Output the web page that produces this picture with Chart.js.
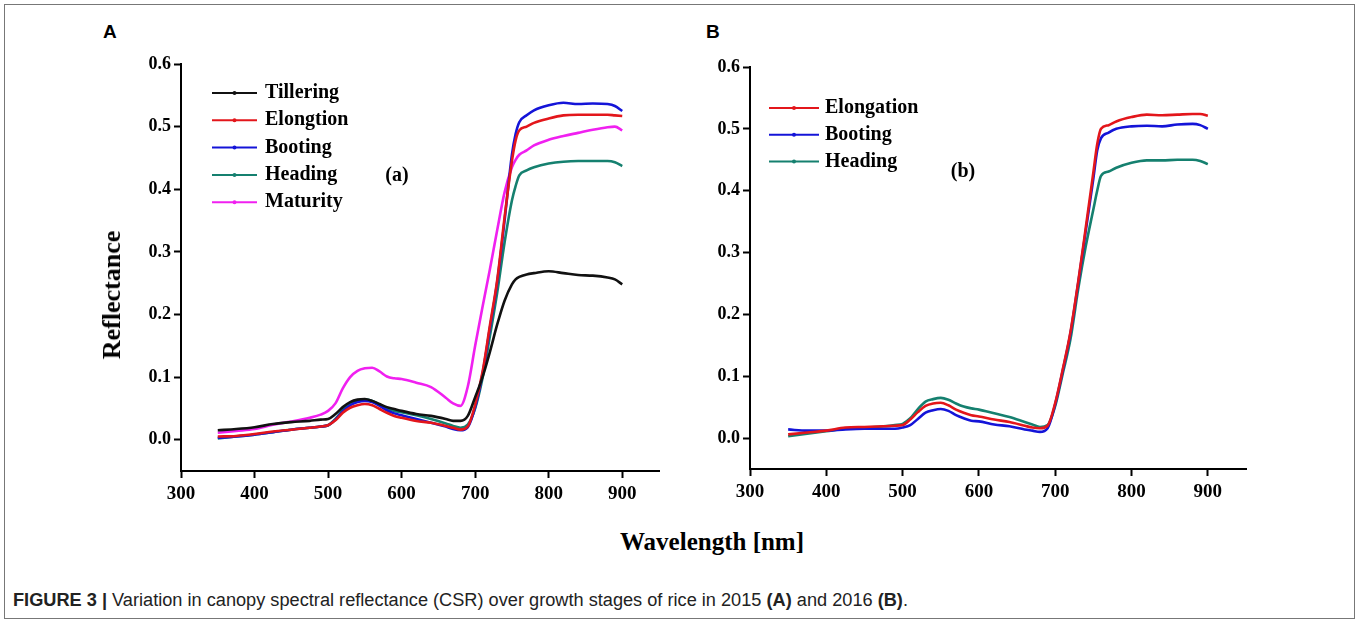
<!DOCTYPE html>
<html>
<head>
<meta charset="utf-8">
<script src="https://cdn.jsdelivr.net/npm/chart.js@4.4.1/dist/chart.umd.min.js"></script>
<style>
  body { margin: 0; background: #fff; width: 1359px; height: 623px; overflow: hidden; position: relative; }
  #frame { position: absolute; left: 4px; top: 4px; width: 1351px; height: 615px; border: 1px solid #777; box-sizing: border-box; }
  .box { position: absolute; }
  .panel { position: absolute; top: 22px; font: bold 19px "Liberation Sans", Arial, sans-serif; line-height: 1; color: #000; }
  .serif { font-family: "Liberation Serif", "Times New Roman", serif; font-weight: bold; color: #000; line-height: 1; position: absolute; white-space: nowrap; }
  #xTitle { left: 712px; top: 541px; font-size: 25px; transform: translate(-50%, -50%); }
  #yTitle { left: 112px; top: 295px; font-size: 26px; transform: translate(-50%, -50%) rotate(-90deg); }
  #cap { position: absolute; left: 13px; top: 590px; font: 18px "Liberation Sans", Arial, sans-serif; color: #222; white-space: nowrap; transform-origin: 0 0; }
</style>
</head>
<body>
<div id="frame"></div>
<div class="panel" style="left:103px">A</div>
<div class="panel" style="left:706px">B</div>
<div class="box" style="left:95px;top:40px"><canvas id="chartA" width="585" height="460"></canvas></div>
<div class="box" style="left:665px;top:40px"><canvas id="chartB" width="600" height="460"></canvas></div>
<div id="xTitle" class="serif">Wavelength [nm]</div>
<div id="yTitle" class="serif">Reflectance</div>
<div id="cap"><b>FIGURE 3 |</b> Variation in canopy spectral reflectance (CSR) over growth stages of rice in 2015 <b>(A)</b> and 2016 <b>(B)</b>.</div>

<script>
// wavelengths (nm) shared by both panels
const wavelengths = [350, 375, 400, 425, 450, 475, 490, 500, 510, 520, 530, 540, 550, 560, 570, 580, 590, 600, 620, 640, 660, 670, 680, 690, 700, 710, 720, 730, 740, 750, 755, 760, 770, 780, 800, 820, 840, 860, 880, 890, 900];

const xTicks = [300, 400, 500, 600, 700, 800, 900];
const yTicks = [0, 0.1, 0.2, 0.3, 0.4, 0.5, 0.6];

// (a) 2015
const tilleringA = [0.015, 0.017, 0.020, 0.025, 0.028, 0.030, 0.032, 0.033, 0.041, 0.052, 0.060, 0.064, 0.065, 0.062, 0.057, 0.052, 0.049, 0.046, 0.041, 0.038, 0.033, 0.030, 0.030, 0.038, 0.068, 0.100, 0.140, 0.184, 0.222, 0.248, 0.256, 0.260, 0.264, 0.266, 0.269, 0.266, 0.263, 0.262, 0.259, 0.256, 0.248];
const elongtionA = [0.005, 0.006, 0.009, 0.013, 0.016, 0.019, 0.021, 0.023, 0.031, 0.043, 0.051, 0.055, 0.057, 0.055, 0.049, 0.043, 0.038, 0.035, 0.030, 0.027, 0.022, 0.019, 0.016, 0.021, 0.056, 0.108, 0.182, 0.255, 0.355, 0.445, 0.478, 0.494, 0.500, 0.506, 0.513, 0.518, 0.519, 0.519, 0.519, 0.518, 0.517];
const bootingA = [0.003, 0.005, 0.008, 0.012, 0.016, 0.019, 0.021, 0.023, 0.032, 0.045, 0.055, 0.060, 0.062, 0.060, 0.054, 0.047, 0.042, 0.039, 0.033, 0.027, 0.021, 0.017, 0.015, 0.020, 0.052, 0.105, 0.178, 0.252, 0.350, 0.455, 0.488, 0.507, 0.518, 0.526, 0.534, 0.538, 0.536, 0.537, 0.536, 0.533, 0.525];
const headingA = [0.002, 0.005, 0.008, 0.012, 0.016, 0.019, 0.021, 0.023, 0.033, 0.047, 0.057, 0.062, 0.064, 0.062, 0.056, 0.050, 0.046, 0.044, 0.039, 0.033, 0.026, 0.022, 0.019, 0.024, 0.050, 0.098, 0.165, 0.235, 0.315, 0.382, 0.405, 0.422, 0.430, 0.435, 0.441, 0.444, 0.445, 0.445, 0.445, 0.443, 0.437];
const maturityA = [0.011, 0.014, 0.017, 0.024, 0.029, 0.035, 0.040, 0.046, 0.058, 0.082, 0.100, 0.110, 0.114, 0.115, 0.109, 0.101, 0.098, 0.097, 0.091, 0.084, 0.067, 0.058, 0.054, 0.085, 0.150, 0.212, 0.272, 0.335, 0.395, 0.435, 0.447, 0.455, 0.462, 0.470, 0.479, 0.485, 0.490, 0.495, 0.499, 0.500, 0.494];

// (b) 2016
const elongationB = [0.006, 0.009, 0.012, 0.017, 0.018, 0.019, 0.020, 0.021, 0.030, 0.042, 0.052, 0.056, 0.057, 0.053, 0.046, 0.041, 0.037, 0.035, 0.030, 0.026, 0.020, 0.017, 0.016, 0.020, 0.057, 0.112, 0.172, 0.252, 0.340, 0.430, 0.475, 0.500, 0.506, 0.512, 0.519, 0.523, 0.522, 0.523, 0.524, 0.524, 0.521];
const bootingB = [0.014, 0.012, 0.012, 0.014, 0.015, 0.015, 0.015, 0.017, 0.021, 0.031, 0.041, 0.045, 0.047, 0.044, 0.037, 0.032, 0.028, 0.027, 0.022, 0.019, 0.014, 0.012, 0.010, 0.016, 0.055, 0.110, 0.170, 0.250, 0.335, 0.420, 0.465, 0.485, 0.494, 0.500, 0.504, 0.505, 0.504, 0.507, 0.508, 0.506, 0.500];
const headingB = [0.003, 0.007, 0.011, 0.015, 0.017, 0.019, 0.021, 0.023, 0.032, 0.047, 0.059, 0.063, 0.065, 0.062, 0.056, 0.051, 0.048, 0.046, 0.040, 0.034, 0.026, 0.022, 0.018, 0.021, 0.052, 0.105, 0.160, 0.240, 0.310, 0.370, 0.400, 0.424, 0.431, 0.437, 0.445, 0.449, 0.449, 0.450, 0.450, 0.448, 0.443];

const BLACK = '#111111', RED = '#e3161b', BLUE = '#1414d8', TEAL = '#15806f', MAGENTA = '#f020f0';

// draws the legend + (a)/(b) tag inside the plot area
const inlineLegend = {
    id: 'inlineLegend',
    afterDatasetsDraw(chart, args, opts) {
        const { ctx, chartArea } = chart;
        ctx.save();
        ctx.font = 'bold 20px "Liberation Serif"';
        ctx.textBaseline = 'middle';
        chart.data.datasets.forEach((ds, i) => {
            const x0 = chartArea.left + opts.left;
            const y = chartArea.top + opts.top + i * opts.rowGap;
            ctx.strokeStyle = ds.borderColor;
            ctx.lineWidth = 2;
            ctx.beginPath();
            ctx.moveTo(x0, y);
            ctx.lineTo(x0 + opts.lineLen, y);
            ctx.stroke();
            ctx.fillStyle = ds.borderColor;
            ctx.beginPath();
            ctx.arc(x0 + opts.lineLen / 2, y, 2, 0, Math.PI * 2);
            ctx.fill();
            ctx.fillStyle = '#000';
            ctx.textAlign = 'left';
            ctx.fillText(ds.label, x0 + opts.textGap, y);
        });
        ctx.textAlign = 'center';
        ctx.fillText(opts.tag, chartArea.left + opts.tagX, chartArea.top + opts.tagY);
        ctx.restore();
    }
};

function series(label, values, color) {
    return {
        label: label,
        data: wavelengths.map((w, i) => ({ x: w, y: values[i] })),
        borderColor: color,
        borderWidth: 2.6,
        pointRadius: 0,
        cubicInterpolationMode: 'monotone',
        fill: false
    };
}

function makeChart(id, datasets, cfg) {
    const tickFont = (size) => ({ family: '"Liberation Serif"', weight: 'bold', size: size });
    return new Chart(document.getElementById(id), {
        type: 'line',
        data: { datasets: datasets },
        plugins: [inlineLegend],
        options: {
            responsive: false,
            animation: false,
            devicePixelRatio: 1,
            layout: { padding: { left: 0, top: cfg.padTop, right: cfg.padRight, bottom: 0 } },
            plugins: {
                legend: { display: false },
                tooltip: { enabled: false },
                inlineLegend: cfg.legend
            },
            scales: {
                x: {
                    type: 'linear',
                    min: 300,
                    max: 950,
                    afterBuildTicks: (s) => { s.ticks = xTicks.map(v => ({ value: v })); },
                    afterFit: (s) => { s.height = cfg.xHeight; },
                    ticks: { color: '#000', font: tickFont(19), padding: 5, autoSkip: false, maxRotation: 0 },
                    grid: { drawOnChartArea: false, drawTicks: true, tickLength: 7, tickWidth: 2, tickColor: '#000' },
                    border: { display: true, color: '#000', width: 2 }
                },
                y: {
                    min: -0.05,
                    max: 0.6,
                    afterBuildTicks: (s) => { s.ticks = yTicks.map(v => ({ value: v })); },
                    afterFit: (s) => { s.width = cfg.yWidth; },
                    ticks: { color: '#000', font: tickFont(18), padding: 3, callback: (v) => v.toFixed(1) },
                    grid: { drawOnChartArea: false, drawTicks: true, tickLength: 7, tickWidth: 2, tickColor: '#000' },
                    border: { display: true, color: '#000', width: 2 }
                }
            }
        }
    });
}

makeChart('chartA', [
    series('Tillering', tilleringA, BLACK),
    series('Elongtion', elongtionA, RED),
    series('Booting', bootingA, BLUE),
    series('Heading', headingA, TEAL),
    series('Maturity', maturityA, MAGENTA)
], {
    padTop: 24, padRight: 21, xHeight: 29, yWidth: 86,
    legend: { left: 31, top: 29, rowGap: 27.3, lineLen: 45, textGap: 53, tag: '(a)', tagX: 216, tagY: 112 }
});

makeChart('chartB', [
    series('Elongation', elongationB, RED),
    series('Booting', bootingB, BLUE),
    series('Heading', headingB, TEAL)
], {
    padTop: 27, padRight: 19, xHeight: 31, yWidth: 85,
    legend: { left: 19, top: 41, rowGap: 26.7, lineLen: 50, textGap: 56, tag: '(b)', tagX: 213, tagY: 105 }
});

// stretch caption to the width it has in the figure
const cap = document.getElementById('cap');
cap.style.transform = 'scaleX(' + (895 / cap.getBoundingClientRect().width) + ')';
</script>
</body>
</html>
